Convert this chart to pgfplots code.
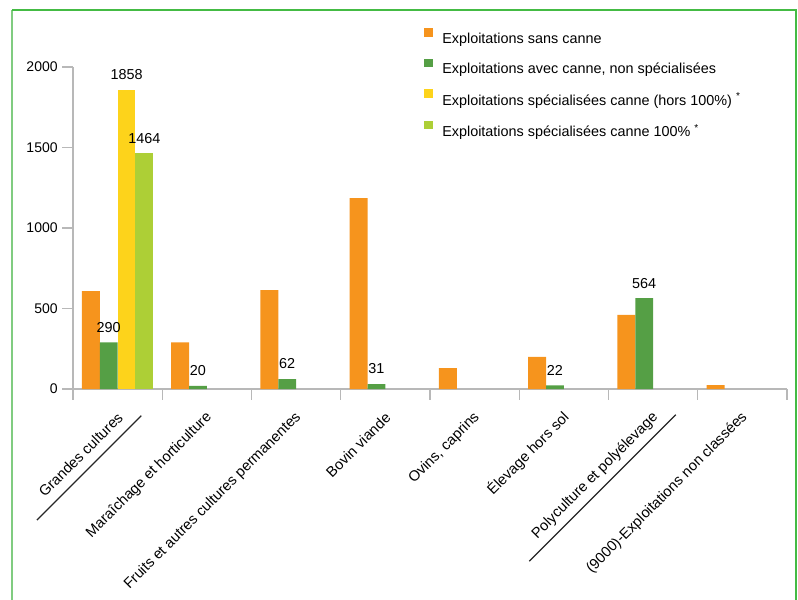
\documentclass[border=0pt]{standalone}
\usepackage{fontspec}
\setmainfont{Liberation Sans}
\usepackage{pgfplots}
\pgfplotsset{compat=1.18}

\definecolor{cOrange}{HTML}{F6941D}
\definecolor{cGreen}{HTML}{559F45}
\definecolor{cYellow}{HTML}{FDD31B}
\definecolor{cLime}{HTML}{ADCF36}
\definecolor{frameG}{HTML}{44BB44}
\definecolor{frameL}{HTML}{80CC80}
\definecolor{axisgray}{HTML}{B8B8B8}

% trait sous certains libelles
\newcommand\ulabel[1]{\setbox0\hbox{#1}\rlap{\smash{\kern-16pt\raisebox{-8pt}{\color{black!85}\rule{\dimexpr\wd0+27pt\relax}{0.9pt}}}}\box0}

\begin{document}
\begin{tikzpicture}
\useasboundingbox (-54.75pt,-157.5pt) rectangle (543.75pt,291.75pt);
\draw[frameL, line width=1.5pt] (-45.4pt,-160pt) -- (-45.4pt,284.25pt);
\draw[frameG, line width=1.5pt] (-45.4pt,284.25pt) -- (541.9pt,284.25pt) -- (541.9pt,-160pt);
\begin{axis}[
    at={(0,0)}, anchor=origin,
    scale only axis,
    width=535.5pt, height=241.5pt,
    xmin=0, xmax=8, ymin=0, ymax=2000,
    axis x line=bottom, axis y line=left,
    axis line style={draw=axisgray, line width=1pt, -},
    tick style={draw=axisgray, line width=1pt},
    tick align=outside,
    major tick length=8pt,
    xtick={0,...,8}, xticklabels={},
    extra x ticks={0.5,1.5,...,7.5},
    extra x tick labels={\ulabel{Grandes cultures}, Maraîchage et horticulture, Fruits et autres cultures permanentes, Bovin viande, {Ovins, caprins}, Élevage hors sol, \ulabel{Polyculture et polyélevage}, (9000)-Exploitations non classées},
    extra x tick style={tick style={draw=none}},
    xticklabel style={xshift=2pt, yshift=-11.5pt, rotate=45, anchor=east, inner sep=0pt,
        font=\fontsize{11}{12}\selectfont},
    ytick={0,500,...,2000},
    yticklabel style={font=\fontsize{10.5}{12}\selectfont},
    /pgf/number format/assume math mode=true,
    /pgf/number format/1000 sep={},
    legend style={at={(0.4916,1.121)}, anchor=north west, draw=none, fill=none,
        font=\fontsize{10.8}{12}\selectfont, row sep=8.2pt, column sep=5pt, inner sep=0pt},
    legend cell align=left,
    legend image code/.code={\fill[#1] (0pt,1.5pt) rectangle (6.5pt,8pt);},
    nodes near coords style={font=\fontsize{10.8}{12}\selectfont, text=black, yshift=4pt},
]
% barres placees au centre de chaque emplacement (categorie + decalage)
\addplot[ybar, bar width=0.2, bar shift=0pt, fill=cOrange, draw=none]
    coordinates {(0.2,608) (1.2,290) (2.2,614) (3.2,1186) (4.2,130) (5.2,199) (6.2,460) (7.2,24)};
\addlegendentry{Exploitations sans canne}
\addplot[ybar, bar width=0.2, bar shift=0pt, fill=cGreen, draw=none, nodes near coords]
    coordinates {(0.4,290) (1.4,20) (2.4,62) (3.4,31) (5.4,22) (6.4,564)};
\addlegendentry{Exploitations avec canne, non spécialisées}
\addplot[ybar, bar width=0.2, bar shift=0pt, fill=cYellow, draw=none, nodes near coords]
    coordinates {(0.6,1858)};
\addlegendentry{Exploitations spécialisées canne (hors 100\%)~\textsuperscript{*}}
\addplot[ybar, bar width=0.2, bar shift=0pt, fill=cLime, draw=none, nodes near coords]
    coordinates {(0.8,1464)};
\addlegendentry{Exploitations spécialisées canne 100\%~\textsuperscript{*}}
\end{axis}
\end{tikzpicture}
\end{document}
